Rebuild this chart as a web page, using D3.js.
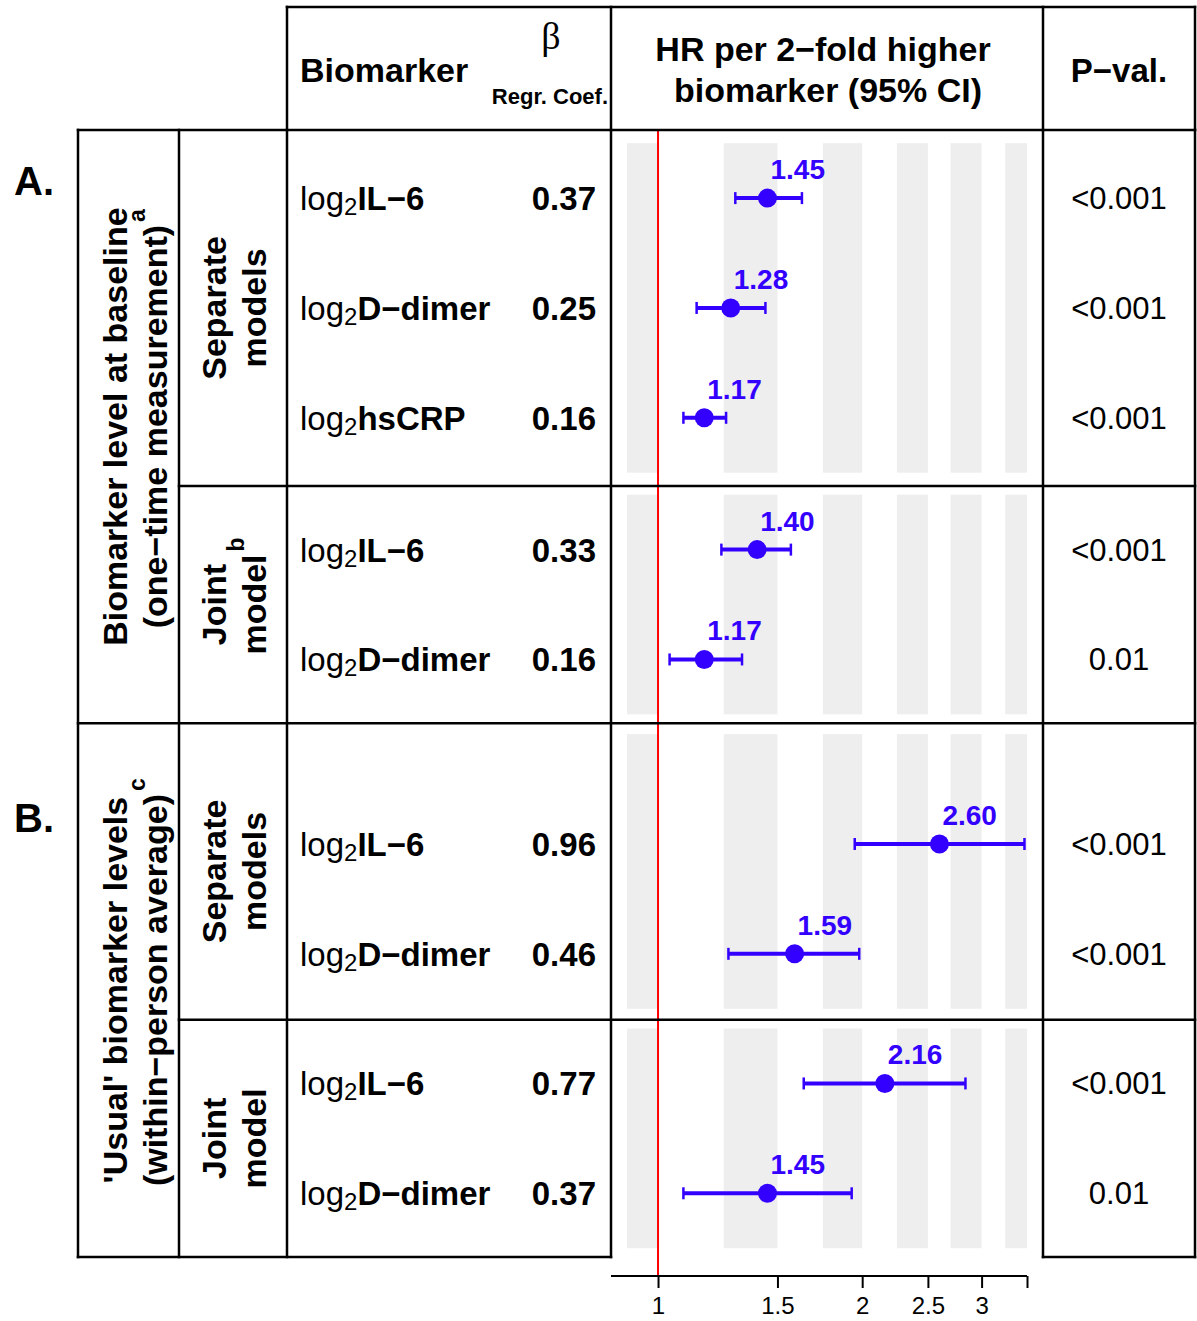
<!DOCTYPE html>
<html>
<head>
<meta charset="utf-8">
<script src="https://cdn.jsdelivr.net/npm/d3@7"></script>
<style>
  body { margin: 0; background: #fff; }
  svg text { font-family: "Liberation Sans", Arial, Helvetica, sans-serif; }
</style>
</head>
<body>
<svg id="chart" width="1197" height="1321"></svg>
<script>
// ---- data ----
const groupTags = ["A.", "B."];
const groupLines = [
  ["Biomarker level at baseline", "(one\u2212time measurement)"],
  ["'Usual' biomarker levels", "(within\u2212person average)"]
];
const groupSup = ["a", "c"];

const panelGroup = [0, 0, 1, 1];
const panelLines = [["Separate", "models"], ["Joint", "model"], ["Separate", "models"], ["Joint", "model"]];
const panelSup = ["", "b", "", ""];
const panelYlim = [[0.5, 3.5], [0.5, 2.5], [0, 2.5], [0.5, 2.5]];

const markers = ["IL\u22126", "D\u2212dimer", "hsCRP", "IL\u22126", "D\u2212dimer", "IL\u22126", "D\u2212dimer", "IL\u22126", "D\u2212dimer"];
const rowPanel = [0, 0, 0, 1, 1, 2, 2, 3, 3];
const rowPos = [1, 2, 3, 1, 2, 1, 2, 1, 2];
const beta = ["0.37", "0.25", "0.16", "0.33", "0.16", "0.96", "0.46", "0.77", "0.37"];
const hr = [1.45, 1.28, 1.17, 1.40, 1.17, 2.60, 1.59, 2.16, 1.45];
const hrLow = [1.30, 1.14, 1.09, 1.24, 1.04, 1.95, 1.27, 1.64, 1.09];
const hrHigh = [1.63, 1.44, 1.26, 1.57, 1.33, 3.47, 1.98, 2.84, 1.93];
const pval = ["<0.001", "<0.001", "<0.001", "<0.001", "0.01", "<0.001", "<0.001", "<0.001", "0.01"];

const xlim = [0.9, 3.5];
const xTicks = [1, 1.5, 2, 2.5, 3, 3.5];
const xTickLabels = ["1", "1.5", "2", "2.5", "3", ""];
const stripes = [[0.9, 1], [1.25, 1.5], [1.75, 2], [2.25, 2.5], [2.7, 3], [3.25, 3.5]];

// ---- layout ----
const svg = d3.select("#chart");
const colX = [78, 179, 287, 611, 1043, 1195];
const headTop = 7, bodyTop = 130, bodyBottom = 1257, axisY = 1276;
const blue = "#3300ff";
const lineW = 2.5;

const unit = (bodyBottom - bodyTop) / (1.08 * d3.sum(panelYlim, d => d[1] - d[0]));
let cursor = bodyTop;
const panels = panelYlim.map((lim, i) => {
  const span = lim[1] - lim[0];
  const h = unit * 1.08 * span;
  const p = { i: i, lim: lim, top: cursor, bottom: cursor + h };
  p.y = d3.scaleLinear()
    .domain([lim[0] - 0.04 * span, lim[1] + 0.04 * span])
    .range([p.top, p.bottom]);
  cursor += h;
  return p;
});

// log x scale with R-style 4% expansion
const lx = xlim.map(Math.log);
const pad = 0.04 * (lx[1] - lx[0]);
const x = d3.scaleLog()
  .domain([Math.exp(lx[0] - pad), Math.exp(lx[1] + pad)])
  .range([colX[3], colX[4]]);

// ---- stripes ----
const gStripe = svg.append("g");
panels.forEach(p => {
  gStripe.selectAll(null)
    .data(stripes)
    .enter().append("rect")
    .attr("x", d => x(d[0]))
    .attr("width", d => x(d[1]) - x(d[0]))
    .attr("y", p.y(p.lim[0]))
    .attr("height", p.y(p.lim[1]) - p.y(p.lim[0]))
    .attr("fill", "#eeeeee");
});

// reference line at HR = 1
svg.append("line")
  .attr("x1", x(1)).attr("x2", x(1))
  .attr("y1", bodyTop).attr("y2", axisY)
  .attr("stroke", "#ff0000").attr("stroke-width", 2);

// ---- table borders ----
const gLines = svg.append("g").attr("stroke", "#000").attr("stroke-width", lineW).attr("stroke-linecap", "square");
function hline(y, x1, x2) { gLines.append("line").attr("x1", x1).attr("x2", x2).attr("y1", y).attr("y2", y); }
function vline(xx, y1, y2) { gLines.append("line").attr("x1", xx).attr("x2", xx).attr("y1", y1).attr("y2", y2); }

hline(headTop, colX[2], colX[5]);
[colX[2], colX[3], colX[4], colX[5]].forEach(xx => vline(xx, headTop, bodyTop));
hline(bodyTop, colX[0], colX[5]);
colX.forEach(xx => vline(xx, bodyTop, bodyBottom));
panels.slice(0, -1).forEach((p, i) => {
  const groupEnd = panelGroup[i] !== panelGroup[i + 1];
  hline(p.bottom, groupEnd ? colX[0] : colX[1], colX[5]);
});
hline(bodyBottom, colX[0], colX[3]);
hline(bodyBottom, colX[4], colX[5]);

// ---- header ----
const head = svg.append("g").attr("fill", "#000");
head.append("text").attr("x", 300).attr("y", 82)
  .attr("font-size", 34).attr("font-weight", "bold").text("Biomarker");
head.append("text").attr("x", 551).attr("y", 49).attr("text-anchor", "middle")
  .style("font-family", "'Liberation Serif', 'DejaVu Serif', serif")
  .attr("font-size", 38).text("\u03b2");
head.append("text").attr("x", 608).attr("y", 104).attr("text-anchor", "end")
  .attr("font-size", 22).attr("font-weight", "bold").text("Regr. Coef.");
head.append("text").attr("x", 823).attr("y", 61).attr("text-anchor", "middle")
  .attr("font-size", 34).attr("font-weight", "bold").text("HR per 2\u2212fold higher");
head.append("text").attr("x", 828).attr("y", 102).attr("text-anchor", "middle")
  .attr("font-size", 34).attr("font-weight", "bold").text("biomarker (95% CI)");
head.append("text").attr("x", (colX[4] + colX[5]) / 2).attr("y", 82).attr("text-anchor", "middle")
  .attr("font-size", 33).attr("font-weight", "bold").text("P\u2212val.");

// ---- rotated labels ----
function rotLabel(cx, cy, lines, sup, size, weight, baselines) {
  const g = svg.append("g").attr("transform", `translate(${cx},${cy}) rotate(-90)`);
  let last;
  lines.forEach((t, k) => {
    last = g.append("text").attr("x", 0).attr("y", baselines[k])
      .attr("text-anchor", "middle")
      .attr("font-size", size).attr("font-weight", weight).text(t);
  });
  if (sup) {
    const len = last.node().getComputedTextLength();
    g.append("text").attr("x", len / 2 + 3).attr("y", baselines[1] - 22)
      .attr("font-size", 23).attr("font-weight", weight).text(sup);
  }
}

groupLines.forEach((lines, gi) => {
  const ps = panels.filter((p, i) => panelGroup[i] === gi);
  const top = ps[0].top, bottom = ps[ps.length - 1].bottom;
  rotLabel(0, (top + bottom) / 2, lines, groupSup[gi], 34, "bold", [127, 167]);
  svg.append("text").attr("x", 14).attr("y", gi === 0 ? 195 : 832)
    .attr("font-size", 40).attr("font-weight", "bold").text(groupTags[gi]);
});

panels.forEach((p, i) => {
  rotLabel(0, (p.top + p.bottom) / 2, panelLines[i], panelSup[i], 34, "bold", [226, 266]);
});

// ---- rows ----
const rows = hr.map((v, i) => ({
  marker: markers[i], beta: beta[i], hr: v, lo: hrLow[i], hi: hrHigh[i], p: pval[i],
  cy: panels[rowPanel[i]].y(rowPos[i])
}));

const gRow = svg.selectAll("g.row").data(rows).enter().append("g").attr("class", "row");

const lab = gRow.append("text").attr("x", 300).attr("y", d => d.cy + 12).attr("fill", "#000");
lab.append("tspan").attr("font-size", 33).text("log");
lab.append("tspan").attr("font-size", 24).attr("dy", 5).text("2");
lab.append("tspan").attr("font-size", 33).attr("font-weight", "bold").attr("dy", -5).text(d => d.marker);

gRow.append("text").attr("x", 596).attr("y", d => d.cy + 12).attr("text-anchor", "end")
  .attr("font-size", 33).attr("font-weight", "bold").text(d => d.beta);

gRow.append("text").attr("x", (colX[4] + colX[5]) / 2).attr("y", d => d.cy + 11)
  .attr("text-anchor", "middle").attr("font-size", 31).text(d => d.p);

// CI whiskers
gRow.append("line")
  .attr("x1", d => x(d.lo)).attr("x2", d => x(d.hi))
  .attr("y1", d => d.cy).attr("y2", d => d.cy)
  .attr("stroke", blue).attr("stroke-width", 4);
["lo", "hi"].forEach(k => {
  gRow.append("line")
    .attr("x1", d => x(d[k])).attr("x2", d => x(d[k]))
    .attr("y1", d => d.cy - 6).attr("y2", d => d.cy + 6)
    .attr("stroke", blue).attr("stroke-width", 2.5);
});
gRow.append("circle")
  .attr("cx", d => x(d.hr)).attr("cy", d => d.cy).attr("r", 9.5).attr("fill", blue);
gRow.append("text")
  .attr("x", d => x(d.hr) + 3).attr("y", d => d.cy - 19)
  .attr("font-size", 28).attr("font-weight", "bold").attr("fill", blue)
  .text(d => d3.format(".2f")(d.hr));

// ---- x axis ----
const axis = d3.axisBottom(x)
  .tickValues(xTicks)
  .tickFormat((d, i) => xTickLabels[i])
  .tickSize(12)
  .tickPadding(9);
const gAxis = svg.append("g").attr("transform", `translate(0,${axisY})`).call(axis);
gAxis.select(".domain").remove();
gAxis.selectAll(".tick line").attr("stroke", "#000").attr("stroke-width", 2);
gAxis.selectAll(".tick text").attr("font-size", 24).attr("fill", "#000")
  .style("font-family", "'Liberation Sans', Arial, sans-serif");
gAxis.append("line")
  .attr("x1", x.range()[0]).attr("x2", x(d3.max(xTicks)))
  .attr("y1", 0).attr("y2", 0)
  .attr("stroke", "#000").attr("stroke-width", 2);
</script>
</body>
</html>
